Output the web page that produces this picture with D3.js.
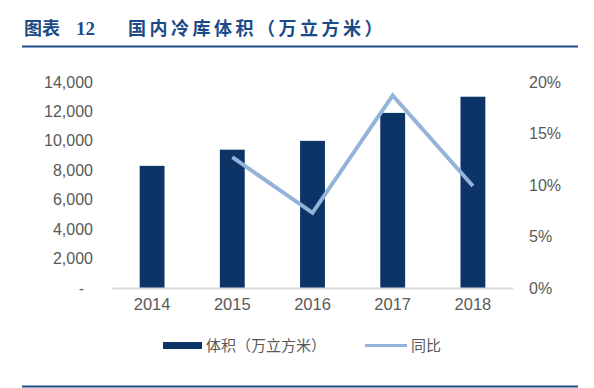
<!DOCTYPE html>
<html>
<head>
<meta charset="utf-8">
<script src="https://cdn.jsdelivr.net/npm/d3@7"></script>
<style>
  body { margin: 0; background: #fff; }
  svg text { font-family: "Liberation Sans", Arial, sans-serif; }
  .tick text { fill: #595959; font-size: 16px; }
  .cjk { font-family: "Noto Sans CJK SC", sans-serif !important; }
</style>
</head>
<body>
<div id="chart"></div>
<script>
'use strict';
// chart data
const years = ['2014', '2015', '2016', '2017', '2018']
const volume = [8300, 9400, 10000, 11900, 13000]
const growth = [null, 0.127, 0.073, 0.187, 0.099]
const leftTicks = [0, 2000, 4000, 6000, 8000, 10000, 12000, 14000]
const rightTicks = [0, 0.05, 0.10, 0.15, 0.20]
const titleText = '国内冷库体积（万立方米）'
const legendLabels = ['体积（万立方米）', '同比']

const W = 594, H = 388
const navy = '#0c3467'
const lightBlue = '#94b3d9'
const titleBlue = '#1c4a88'

const svg = d3.select('#chart').append('svg')
    .attr('width', W)
    .attr('height', H)

// plot area
const plot = { left: 112, right: 513, top: 82, bottom: 288 }
const x = d3.scaleBand().domain(years).range([plot.left, plot.right]).paddingInner(0.69).paddingOuter(0.345)
const y = d3.scaleLinear().domain([0, 14000]).range([plot.bottom, plot.top])
const y2 = d3.scaleLinear().domain([0, 0.2]).range([plot.bottom, plot.top])

// Title
const title = svg.append('text')
    .attr('x', 24)
    .attr('y', 35)
    .attr('fill', titleBlue)
    .style('font-size', '18px')
    .style('font-weight', 'bold')
title.append('tspan').attr('class', 'cjk').text('图表')
title.append('tspan').attr('dx', 16)
    .style('font-family', '"Liberation Serif", serif')
    .style('font-size', '19px')
    .text('12')
svg.append('text')
    .attr('class', 'cjk')
    .attr('x', 128)
    .attr('y', 35)
    .attr('fill', titleBlue)
    .style('font-size', '18px')
    .style('font-weight', 'bold')
    .style('letter-spacing', '3.5px')
    .text(titleText)

// Title underline and bottom rule
svg.append('line')
    .attr('x1', 22).attr('x2', 578)
    .attr('y1', 46.5).attr('y2', 46.5)
    .attr('stroke', titleBlue)
    .attr('stroke-width', 2)
svg.append('line')
    .attr('x1', 22).attr('x2', 578)
    .attr('y1', 386.5).attr('y2', 386.5)
    .attr('stroke', titleBlue)
    .attr('stroke-width', 2)

// Left axis
svg.append('g')
    .attr('transform', `translate(93,0)`)
    .call(d3.axisLeft(y).tickValues(leftTicks).tickSize(0).tickPadding(0)
        .tickFormat(d => d === 0 ? '-' : d3.format(',')(d)))
    .call(g => g.select('.domain').remove())
    .call(g => g.selectAll('.tick text').filter(d => d === 0).attr('dx', -9))

// Right axis
svg.append('g')
    .attr('transform', `translate(529,0)`)
    .call(d3.axisRight(y2).tickValues(rightTicks).tickSize(0).tickPadding(0)
        .tickFormat(d3.format('.0%')))
    .call(g => g.select('.domain').remove())

// Bars
svg.append('g').selectAll('rect')
    .data(years)
    .join('rect')
    .attr('x', d => x(d))
    .attr('width', x.bandwidth())
    .attr('y', (d, i) => y(volume[i]))
    .attr('height', (d, i) => y(0) - y(volume[i]))
    .attr('fill', navy)

// X axis
svg.append('g')
    .attr('transform', `translate(0,${plot.bottom})`)
    .call(d3.axisBottom(x).tickSize(0).tickPadding(10))
    .call(g => g.select('.domain').attr('stroke', '#d9d9d9').attr('stroke-width', 2))
    .call(g => g.selectAll('.tick text').style('font-size', '16.5px'))

// Growth line
const growthLine = d3.line()
    .defined(d => d.v !== null)
    .x(d => x(d.year) + x.bandwidth() / 2)
    .y(d => y2(d.v))
svg.append('path')
    .datum(years.map((year, i) => ({ year, v: growth[i] })))
    .attr('d', growthLine)
    .attr('fill', 'none')
    .attr('stroke', lightBlue)
    .attr('stroke-width', 4)

// Legend
const legend = svg.append('g')
legend.append('rect')
    .attr('x', 163).attr('y', 342)
    .attr('width', 39).attr('height', 7)
    .attr('fill', navy)
legend.append('text')
    .attr('class', 'cjk')
    .attr('x', 206).attr('y', 351)
    .attr('fill', '#595959')
    .style('font-size', '15px')
    .text(legendLabels[0])
legend.append('line')
    .attr('x1', 365).attr('x2', 407)
    .attr('y1', 345.5).attr('y2', 345.5)
    .attr('stroke', lightBlue)
    .attr('stroke-width', 3)
legend.append('text')
    .attr('class', 'cjk')
    .attr('x', 411).attr('y', 351)
    .attr('fill', '#595959')
    .style('font-size', '15px')
    .text(legendLabels[1])
</script>
</body>
</html>
